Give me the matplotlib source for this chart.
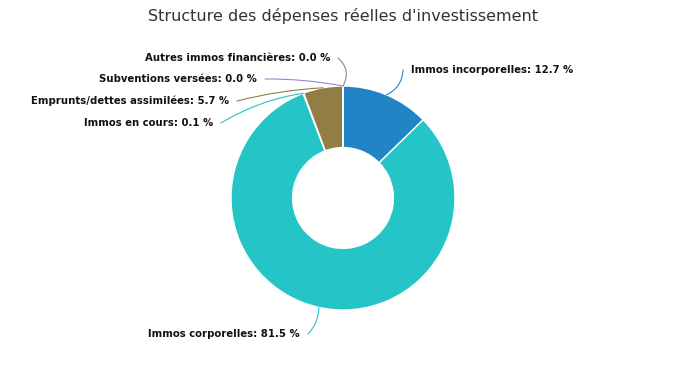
import numpy as np
import matplotlib
matplotlib.use("Agg")
import matplotlib.pyplot as plt

# data
labels = ["Immos incorporelles", "Immos corporelles", "Immos en cours",
          "Emprunts/dettes assimilées", "Subventions versées", "Autres immos financières"]
values = [12.7, 81.5, 0.1, 5.7, 0.0, 0.0]
colors = ["#2185c5", "#25c5c7", "#25c5c7", "#937d45", "#a57fcf", "#8a8a8a"]

W, H = 687, 366
cx, cy, R = 343, 198, 112

fig = plt.figure(figsize=(W / 100, H / 100), dpi=100)
ax = fig.add_axes([(cx - R) / W, (H - cy - R) / H, 2 * R / W, 2 * R / H])

ax.pie(values, colors=colors, startangle=90, counterclock=False, radius=1,
       wedgeprops=dict(width=0.55, edgecolor="white", linewidth=1))
ax.set_xlim(-1, 1)
ax.set_ylim(-1, 1)
ax.set_aspect("equal")
ax.axis("off")

fig.text(0.5, 1 - 16 / H, "Structure des dépenses réelles d'investissement",
         ha="center", va="center", fontsize=11.5, color="#333333")

# label positions in pixels (x, y from top), alignment, curvature
label_pos = [(411, 70, "left", -0.3),
             (300, 334, "right", 0.2),
             (213, 123, "right", -0.1),
             (229, 101, "right", -0.05),
             (257, 79, "right", -0.05),
             (330, 58, "right", -0.4)]

total = sum(values)
start = 90.0
for lab, v, col, (px, py, ha, rad) in zip(labels, values, colors, label_pos):
    sweep = 360 * v / total
    mid = np.radians(start - sweep / 2)
    start -= sweep
    x0, y0 = np.cos(mid), np.sin(mid)
    if ha == "left":
        tx = px - 8
    else:
        tx = px + 8
    txt = "%s: %.1f %%" % (lab, v)
    ax.annotate("", xy=(x0, y0), xycoords="data",
                xytext=(tx, H - py), textcoords="figure pixels",
                arrowprops=dict(arrowstyle="-", color=col, lw=0.8,
                                shrinkA=0, shrinkB=0,
                                connectionstyle="arc3,rad=%s" % rad),
                annotation_clip=False)
    fig.text(px / W, 1 - py / H, txt, ha=ha, va="center",
             fontsize=7.3, fontweight="bold", color="#111111")

fig.savefig("out.png", dpi=100)
